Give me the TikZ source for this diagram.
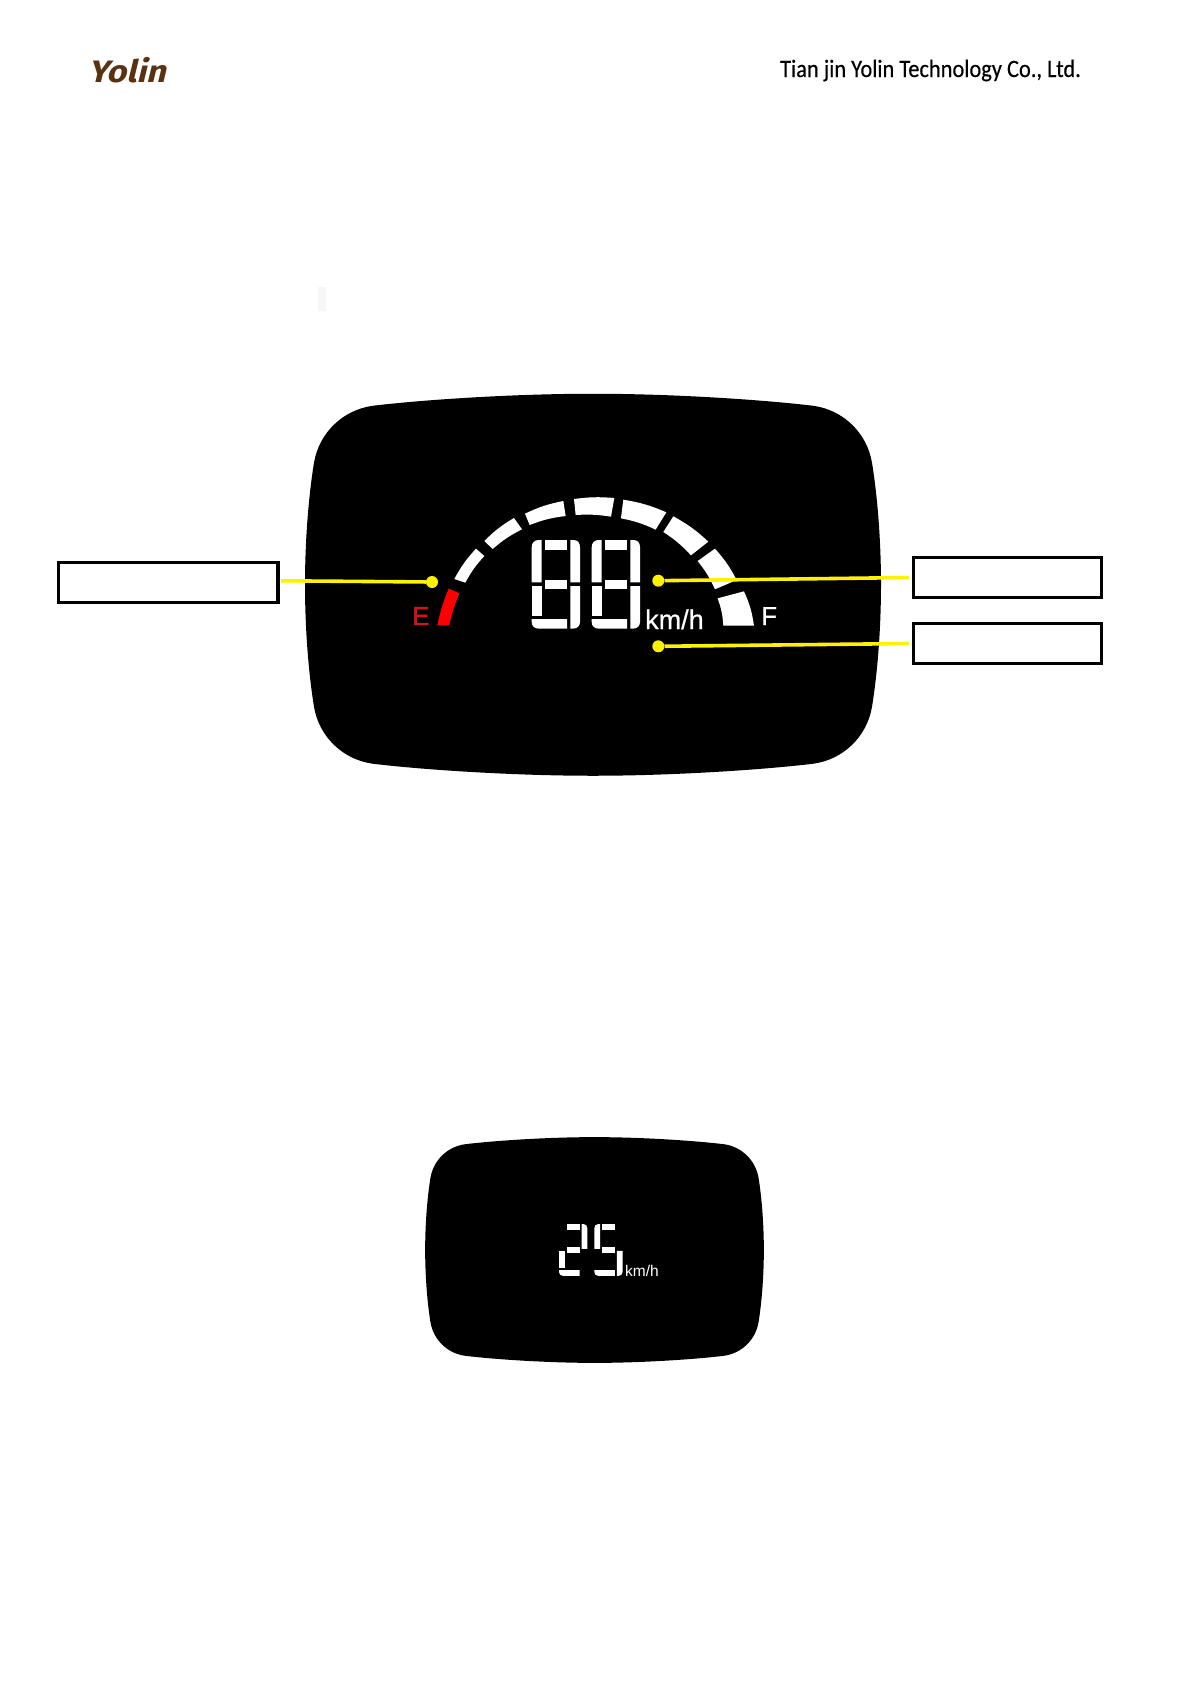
\documentclass[tikz,border=0pt]{standalone}
\usepackage{fontspec}
\setmainfont{Liberation Sans}
\newfontfamily\logofont[FakeSlant=0.22]{Fira Sans Bold}
\newfontfamily\headfont[FakeBold=0.4]{Carlito}
\newfontfamily\medfont[FakeBold=0.6]{Liberation Sans}
\newfontfamily\semifont[FakeBold=1.2]{Liberation Sans}
\definecolor{logobrown}{HTML}{5A3212}
\definecolor{gaugered}{HTML}{FF0000}
\definecolor{ered}{HTML}{D01418}
\definecolor{pointer}{HTML}{FFF200}
\newcommand{\panelpath}{(0,-191) .. controls (-80,-191) and (-170,-185) .. (-220,-179) .. controls (-250,-175) and (-274,-152) .. (-279,-122) .. controls (-285,-85) and (-288,-40) .. (-288,0) .. controls (-288,40) and (-285,85) .. (-279,122) .. controls (-274,152) and (-250,175) .. (-220,179) .. controls (-170,185) and (-80,191) .. (0,191) .. controls (80,191) and (170,185) .. (220,179) .. controls (250,175) and (274,152) .. (279,122) .. controls (285,85) and (288,40) .. (288,0) .. controls (288,-40) and (285,-85) .. (279,-122) .. controls (274,-152) and (250,-175) .. (220,-179) .. controls (170,-185) and (80,-191) .. (0,-191) -- cycle}
% seven-segment parts, local units = 1/3 px at scale 1
\newcommand{\segUL}{\fill[white] (0,127) -- (0,22) .. controls (0,8) and (8,0) .. (22,0) -- (30,0) -- (30,127) -- cycle;}
\newcommand{\segT}{\fill[white] (40,1) rectangle (106,29);}
\newcommand{\segUR}{\fill[white] (116,0) -- (124,0) .. controls (138,0) and (145,8) .. (145,22) -- (145,127) -- (116,127) -- cycle;}
\newcommand{\segM}{\fill[white] (40,120) rectangle (106,148);}
\newcommand{\segLL}{\fill[white] (0,138) rectangle (30,227);}
\newcommand{\segLR}{\fill[white] (116,138) -- (145,138) -- (145,246) .. controls (145,258) and (136,266) .. (124,266) -- (116,266) -- cycle;}
\newcommand{\segB}{\fill[white] (0,237) -- (106,237) -- (106,266) -- (22,266) .. controls (8,266) and (0,258) .. (0,246) -- cycle;}
\tikzset{
  infobox/.style={draw=black,fill=white,line width=3.4pt,inner sep=0pt,minimum height=40pt},
  conn/.style={draw=pointer,line width=3.6pt},
  dotpt/.style={circle,fill=pointer,inner sep=0pt,minimum size=12pt},
  gseg/.style={fill=white},
  lbl/.style={inner sep=0pt,anchor=base west}
}
\begin{document}
\begin{tikzpicture}[x=1pt,y=-1pt]
\useasboundingbox (0,0) rectangle (1191,1684);
\fill[white] (0,0) rectangle (1191,1684);
% header
\node[lbl,text=logobrown,font=\logofont\fontsize{31}{36}\selectfont] (logo) at (88,82) {\scalebox{1.1}[1]{Yolin}};
\node[lbl,text=black,font=\headfont\fontsize{25}{30}\selectfont] (head) at (780,77) {\scalebox{0.897}[1]{Tian jin Yolin Technology Co., Ltd.}};
\fill[black!3] (318,287) rectangle (326,311);
% large panel
\fill[black,shift={(593,584.75)}] \panelpath;
% gauge
\begin{scope}[shift={(400,480)},x=0.3333pt,y=-0.3333pt]
\fill[gaugered] (146,326) -- (178,340) to[bend right=5] (148,436) -- (112,436) to[bend left=5] (146,326) -- cycle;
\fill[gseg] (163,297) to[bend left=7] (228,206) -- (253,228) to[bend right=7] (196,308) -- cycle;
\fill[gseg] (253,183) to[bend left=7] (342,114) -- (366,148) to[bend right=7] (278,207) -- cycle;
\fill[gseg] (375,101) to[bend left=7] (490,63) -- (497,108) to[bend right=7] (389,135) -- cycle;
\fill[gseg] (522,57) to[bend left=6] (643,54) -- (633,110) to[bend right=6] (527,105) -- cycle;
\fill[gseg] (670,59) to[bend left=7] (799,97) -- (767,149) to[bend right=7] (663,115) -- cycle;
\fill[gseg] (820,109) to[bend left=7] (925,185) -- (873,226) to[bend right=7] (790,156) -- cycle;
\fill[gseg] (945,206) to[bend left=7] (1010,300) -- (945,328) to[bend right=7] (893,243) -- cycle;
\fill[gseg] (1032,334) to[bend left=8] (1062,437) -- (970,437) to[bend right=8] (953,355) -- cycle;
\end{scope}
% big 88
\begin{scope}[shift={(531.7,540)},x=0.3333pt,y=0.3333pt,yscale=-1]
\segUL\segT\segUR\segM\segLL\segLR\segB
\end{scope}
\begin{scope}[shift={(591.7,540)},x=0.3333pt,y=0.3333pt,yscale=-1]
\segUL\segT\segUR\segM\segLL\segLR\segB
\end{scope}
\node[lbl,text=white,font=\medfont\fontsize{27}{30}\selectfont] (unit) at (645,629) {km/h};
\node[lbl,text=ered,font=\semifont\fontsize{26}{30}\selectfont] (lblE) at (412,625) {E};
\node[lbl,text=white,font=\medfont\fontsize{26}{30}\selectfont] (lblF) at (761,625) {F};
% boxes
\node[infobox,minimum width=219.5pt] (boxL) at (168.25,582.5) {};
\node[infobox,minimum width=188pt] (boxA) at (1007.5,577.5) {};
\node[infobox,minimum width=188pt] (boxB) at (1007.5,643.5) {};
% pointers
\node[dotpt] (dotL) at (432,582) {};
\node[dotpt] (dotA) at (658.3,580.7) {};
\node[dotpt] (dotB) at (658.3,646.3) {};
\coordinate (startL) at (281,580.8);
\draw[conn] (startL) -- (dotL);
\draw[conn,shorten >=3pt] (dotA) -- (boxA.west);
\draw[conn,shorten >=3pt] (dotB) -- (boxB.west);
% small panel
\fill[black,shift={(594.5,1250)},xscale=0.588,yscale=0.591] \panelpath;
\begin{scope}[shift={(559,1224)},x=0.3333pt,y=0.3333pt,yscale=-0.585,xscale=0.585]
\segT\segUR\segM\segLL\segB
\end{scope}
\begin{scope}[shift={(594.3,1224)},x=0.3333pt,y=0.3333pt,yscale=-0.585,xscale=0.585]
\segUL\segT\segM\segLR\segB
\end{scope}
\node[lbl,text=white,font=\fontsize{15.5}{18}\selectfont] (unitS) at (625,1276) {km/h};
\end{tikzpicture}
\end{document}
